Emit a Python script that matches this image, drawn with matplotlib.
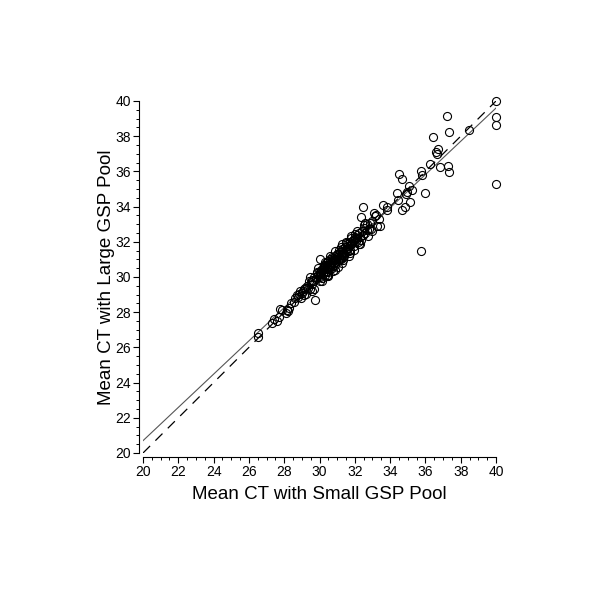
import matplotlib
matplotlib.use("Agg")
import matplotlib.pyplot as plt
from matplotlib.ticker import MultipleLocator

plt.rcParams['font.family'] = ['Liberation Sans', 'DejaVu Sans']

# Mean CT values (small pool, large pool)
small_pool = [
    26.5, 26.5, 27.3, 27.45, 27.6, 27.7, 27.75, 28.15, 28.3, 28.2,
    28.6, 28.7, 28.8, 28.9, 29.0, 29.1, 29.15, 28.95, 29.3, 29.4,
    29.5, 29.6, 29.55, 29.75, 29.7, 29.8, 29.85, 29.9, 30.0, 30.0,
    30.05, 30.1, 30.15, 30.2, 30.25, 30.3, 30.3, 30.35, 30.4, 30.45,
    30.5, 30.5, 30.55, 30.6, 30.6, 30.65, 30.7, 30.75, 30.8, 30.85,
    30.9, 30.9, 30.95, 31.0, 31.05, 31.1, 31.15, 31.2, 31.25, 31.3,
    31.35, 31.4, 31.45, 31.5, 31.55, 31.6, 31.65, 31.7, 31.75, 31.8,
    31.85, 31.9, 31.95, 32.0, 32.05, 32.1, 32.15, 32.2, 32.25, 32.3,
    32.35, 32.4, 32.45, 32.5, 32.6, 32.7, 32.8,
    29.2, 29.35, 29.45, 29.65, 29.95, 30.1, 30.2, 30.4, 30.45, 30.55,
    30.65, 30.7, 30.8, 30.95, 31.0, 31.1, 31.2, 31.3, 31.4, 31.5,
    31.6, 31.7, 31.8, 31.9, 32.0, 30.0, 30.5, 31.3, 30.25, 30.75,
    30.85, 31.05, 31.15, 31.35, 31.55, 30.35, 30.6, 28.4, 28.85, 29.05,
    32.46, 33.09, 32.35, 33.37, 33.26, 32.86, 32.69, 32.46, 33.43, 33.60,
    33.82, 33.82, 34.67, 34.84, 35.13, 34.45, 34.39, 34.90, 34.96, 35.24,
    35.07, 35.98, 34.50, 34.67, 35.75, 35.81, 36.26, 36.83, 37.28, 37.34,
    36.60, 36.71, 36.66, 36.43, 37.34, 37.22, 38.47, 40.0, 40.0, 40.0,
    40.0, 35.75, 33.0, 32.9, 33.15,
    29.45, 29.7, 29.9, 30.15, 30.3, 30.45, 30.6, 30.75, 30.9, 31.05,
    31.2, 31.35, 31.5, 31.65, 31.8, 31.95, 32.1, 32.3, 32.55, 32.75,
    29.6, 29.85, 30.05, 30.25, 30.5, 30.7, 30.9, 31.1, 31.3, 31.5,
    31.75, 32.0, 32.25, 32.5, 32.95, 33.2, 29.25, 28.55, 28.1, 27.9,
]
large_pool = [
    26.8, 26.6, 27.4, 27.6, 27.5, 27.7, 28.2, 28.15, 28.25, 28.05,
    28.8, 28.95, 28.85, 29.2, 29.1, 29.0, 29.3, 28.8, 29.5, 29.75,
    29.7, 29.6, 29.85, 28.7, 30.0, 29.9, 30.2, 30.1, 30.0, 30.3,
    30.15, 30.4, 29.95, 30.5, 30.3, 30.6, 30.1, 30.45, 30.7, 30.55,
    30.3, 30.9, 30.75, 31.0, 30.6, 30.85, 30.5, 31.1, 30.8, 30.95,
    31.2, 30.7, 31.0, 31.3, 30.9, 31.1, 31.4, 31.05, 31.25, 31.6,
    31.4, 31.2, 31.7, 31.5, 31.9, 31.65, 31.45, 32.0, 31.8, 32.2,
    31.95, 32.1, 31.75, 32.3, 32.05, 32.4, 32.2, 32.0, 32.5, 32.3,
    32.1, 32.6, 32.4, 32.8, 32.5, 33.0, 32.75,
    29.35, 29.4, 29.3, 29.8, 30.05, 30.25, 30.15, 30.5, 30.35, 30.65,
    30.7, 30.95, 31.0, 30.85, 31.15, 31.05, 31.3, 31.45, 31.35, 31.6,
    31.75, 31.55, 31.9, 32.05, 32.15, 31.0, 30.1, 31.9, 30.55, 30.6,
    31.05, 31.25, 31.0, 31.15, 31.6, 30.8, 30.45, 28.5, 29.05, 29.2,
    33.98, 33.64, 33.41, 33.30, 32.90, 33.07, 32.67, 32.39, 32.90, 34.09,
    33.98, 33.81, 33.81, 33.98, 34.26, 34.38, 34.77, 34.72, 34.83, 34.94,
    35.17, 34.77, 35.85, 35.57, 36.02, 35.80, 36.42, 36.25, 36.31, 35.97,
    37.10, 37.27, 36.99, 37.95, 38.24, 39.15, 38.35, 40.0, 39.09, 38.64,
    35.28, 31.48, 33.2, 32.7, 33.45,
    30.0, 29.3, 30.5, 29.8, 30.85, 30.05, 31.2, 30.35, 31.45, 30.55,
    31.7, 30.95, 32.0, 31.2, 32.35, 31.55, 32.6, 31.9, 33.05, 32.35,
    29.2, 30.3, 29.75, 30.7, 30.05, 31.15, 30.4, 31.55, 30.8, 31.95,
    31.35, 32.45, 31.85, 32.95, 32.6, 33.55, 29.05, 28.6, 27.95, 28.1,
]

# Reference lines
identity_x = [20, 40]
identity_y = [20, 40]
fit_x = [20, 40]
fit_y = [20.7, 39.6]

x_ticks = [20, 22, 24, 26, 28, 30, 32, 34, 36, 38, 40]
y_ticks = [20, 22, 24, 26, 28, 30, 32, 34, 36, 38, 40]

fig = plt.figure(figsize=(6, 6), dpi=100)
ax = fig.add_axes([143/600, 1-453/600, (496-143)/600, (453-101)/600])

ax.plot(identity_x, identity_y, color='black', lw=0.9, linestyle=(0, (8, 6)))
ax.plot(fit_x, fit_y, color='#555555', lw=0.8)
ax.plot(small_pool, large_pool, linestyle='none', marker='o', markersize=5.8,
        markerfacecolor='none', markeredgecolor='black', markeredgewidth=0.8,
        clip_on=False)

ax.set_xlim(20, 40)
ax.set_ylim(20, 40)
ax.set_xticks(x_ticks)
ax.set_yticks(y_ticks)
ax.xaxis.set_minor_locator(MultipleLocator(0.5))
ax.yaxis.set_minor_locator(MultipleLocator(0.5))

for s in ['top', 'right']:
    ax.spines[s].set_visible(False)
for s in ['left', 'bottom']:
    ax.spines[s].set_position(('outward', 3))
    ax.spines[s].set_linewidth(0.8)
    ax.spines[s].set_bounds(20, 40)

ax.tick_params(which='major', length=4, width=0.8, labelsize=10, pad=1.5)
ax.tick_params(which='minor', length=2, width=0.7)

ax.set_xlabel('Mean CT with Small GSP Pool', fontsize=13.5, labelpad=5)
ax.set_ylabel('Mean CT with Large GSP Pool', fontsize=13.5)
ax.yaxis.set_label_coords(-0.08, 0.5)

fig.savefig('out.png', dpi=100)
